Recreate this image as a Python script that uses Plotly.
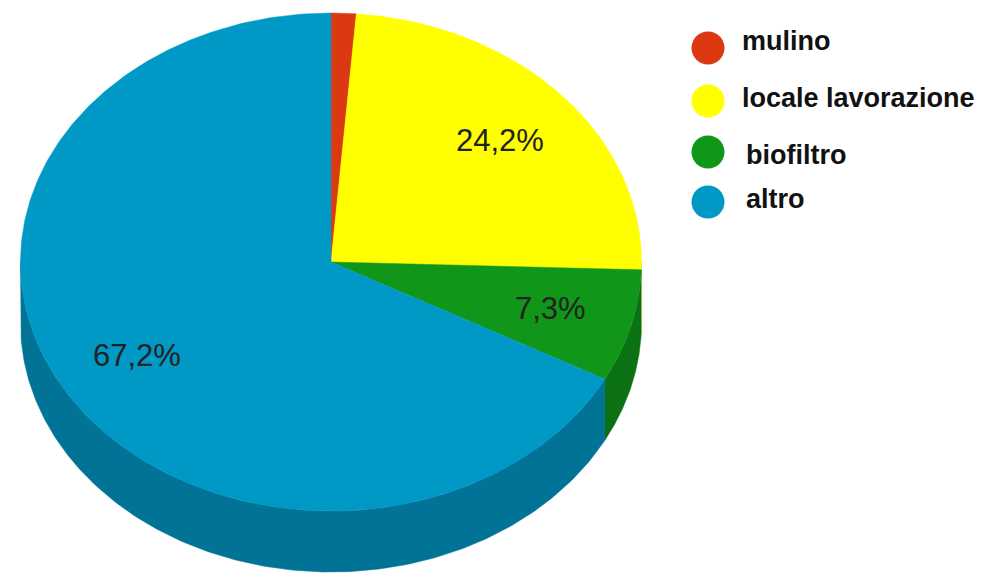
import numpy as np
import plotly.graph_objects as go

labels = ["mulino", "locale lavorazione", "biofiltro", "altro"]
values = [1.3, 24.2, 7.3, 67.2]
label_text = ["", "24,2%", "7,3%", "67,2%"]
top_colors = ["#DC3912", "#FFFF00", "#109618", "#0099C6"]
side_colors = ["#A82B0E", "#C2C200", "#0C7112", "#007396"]

# geometry (pixel space)
CX, CY = 331, 262
RX, RY = 310.5, 249
DEPTH = 61
LABEL_R = 0.73

fig = go.Figure()

def pt(theta, dy=0.0):
    return CX + RX * np.sin(theta), CY - RY * np.cos(theta) + dy

total = sum(values)
fracs = np.array(values) / total
starts = np.concatenate([[0], np.cumsum(fracs)[:-1]]) * 2 * np.pi
ends = np.cumsum(fracs) * 2 * np.pi

# sides (visible front half: pi/2 .. 3pi/2)
for s, e, col in zip(starts, ends, side_colors):
    a0, a1 = max(s, np.pi / 2), min(e, 3 * np.pi / 2)
    if a1 <= a0:
        continue
    th = np.linspace(a0, a1, 200)
    xt, yt = pt(th)
    xb, yb = pt(th[::-1], DEPTH)
    fig.add_trace(go.Scatter(x=np.concatenate([xt, xb]), y=np.concatenate([yt, yb]),
                             fill="toself", fillcolor=col, mode="lines",
                             line=dict(width=0.5, color=col), hoverinfo="skip", showlegend=False))

# tops
for s, e, col in zip(starts, ends, top_colors):
    th = np.linspace(s, e, 300)
    xt, yt = pt(th)
    fig.add_trace(go.Scatter(x=np.concatenate([[CX], xt, [CX]]), y=np.concatenate([[CY], yt, [CY]]),
                             fill="toself", fillcolor=col, mode="lines",
                             line=dict(width=0.5, color=col), hoverinfo="skip", showlegend=False))

# slice labels
for s, e, t in zip(starts, ends, label_text):
    if not t:
        continue
    m = (s + e) / 2
    x = CX + LABEL_R * RX * np.sin(m)
    y = CY - LABEL_R * RY * np.cos(m)
    fig.add_annotation(x=x, y=y, text=t, showarrow=False,
                       font=dict(family="Liberation Sans, Arial", size=31, color="#222222"))

# legend
leg_y = [48, 101, 152, 202]
leg_text_y = [41, 98, 155, 199]
leg_text_x = [740, 740, 744, 744]
fig.add_trace(go.Scatter(x=[708] * 4, y=leg_y, mode="markers",
                         marker=dict(size=33, color=top_colors), hoverinfo="skip", showlegend=False))
for lab, x, y in zip(labels, leg_text_x, leg_text_y):
    fig.add_annotation(x=x, y=y, text="<b>" + lab + "</b>", showarrow=False,
                       xanchor="left", yanchor="middle",
                       font=dict(family="Liberation Sans, Arial", size=27, color="#111111"))

fig.update_layout(
    width=986, height=581,
    margin=dict(l=0, r=0, t=0, b=0),
    paper_bgcolor="white", plot_bgcolor="white",
    xaxis=dict(range=[0, 986], visible=False, fixedrange=True),
    yaxis=dict(range=[581, 0], visible=False, fixedrange=True),
)
fig.write_html("out.html")
